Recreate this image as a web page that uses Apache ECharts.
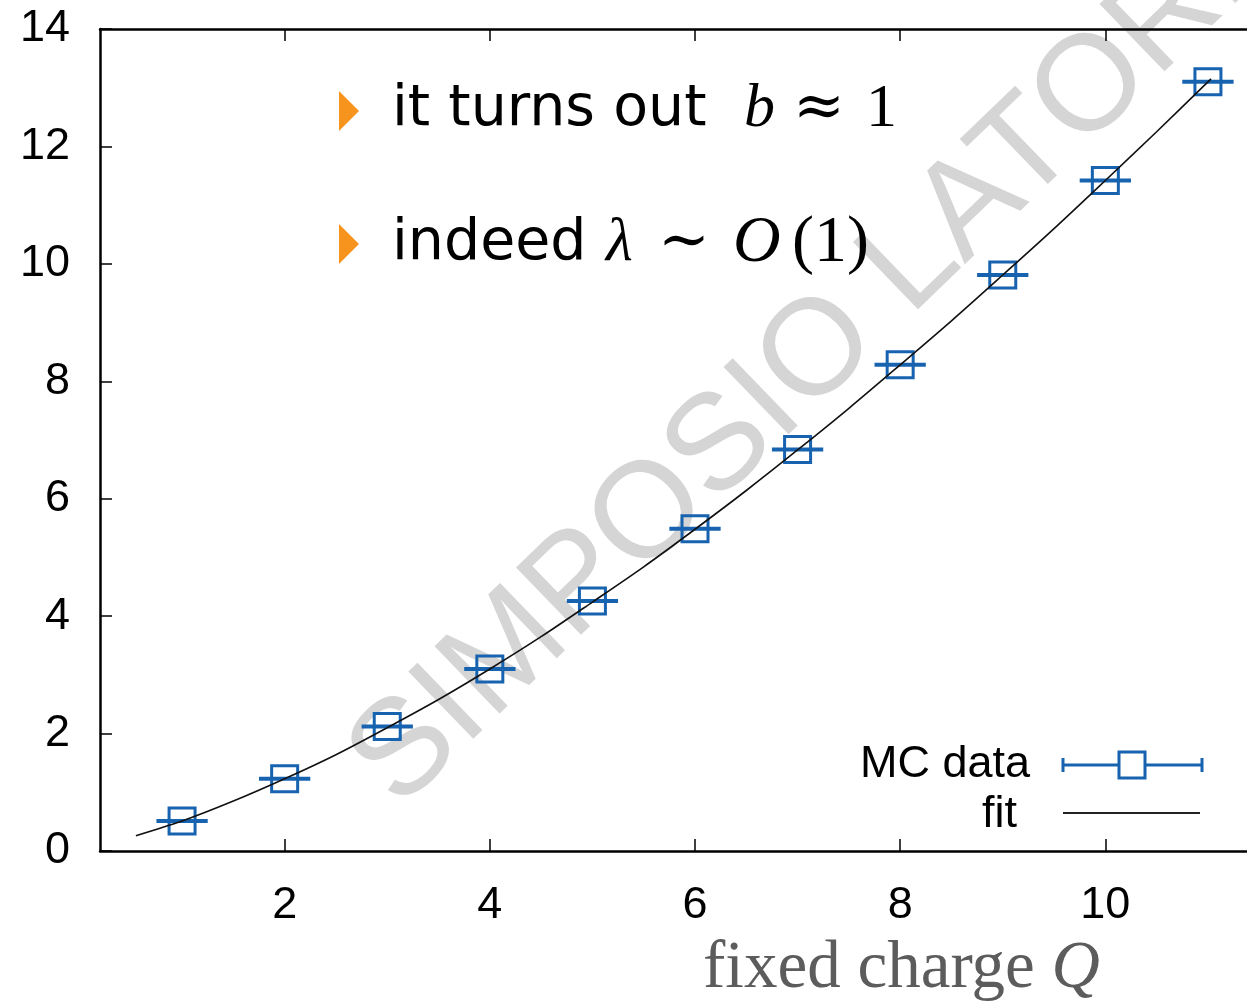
<!DOCTYPE html>
<html>
<head>
<meta charset="utf-8">
<script src="https://cdn.jsdelivr.net/npm/echarts@6/dist/echarts.min.js"></script>
<style>
	html, body { margin: 0; padding: 0; overflow: hidden; background: #fff; }
	#chart { width: 1300px; height: 1003px; }
</style>
</head>
<body>
<div id="chart"></div>
<script>
	// data
	const charges = [1, 2, 3, 4, 5, 6, 7, 8, 9, 10, 11];
	const mcValues = [0.51, 1.23, 2.12, 3.10, 4.26, 5.49, 6.84, 8.28, 9.81, 11.42, 13.10];
	const mcErrors = [0.25, 0.25, 0.25, 0.25, 0.25, 0.25, 0.25, 0.25, 0.25, 0.25, 0.25];
	const fitCharges = [0.55, 1, 1.5, 2, 2.5, 3, 3.5, 4, 4.5, 5, 5.5, 6, 6.5, 7, 7.5, 8, 8.5, 9, 9.5, 10, 10.5, 11.03];
	const fitValues = [0.26, 0.51, 0.85, 1.23, 1.64, 2.10, 2.58, 3.10, 3.65, 4.24, 4.84, 5.48, 6.14, 6.83, 7.54, 8.28, 9.03, 9.81, 10.60, 11.42, 12.25, 13.15];
	const xTicks = [2, 4, 6, 8, 10];

	const BLUE = "#1763b0";
	const ORANGE = "#f7941d";

	const myChart = echarts.init(document.getElementById("chart"));

	const axisLine = { lineStyle: { color: "#000", width: 2.5 } };
	const axisTick = { inside: true, length: 12, lineStyle: { color: "#000", width: 1.5 } };

	const option = {
		animation: false,
		grid: { left: 100, right: 10, top: 29, bottom: 152 },
		xAxis: [
			{
				type: "value",
				min: 0.2,
				max: 11.8,
				position: "bottom",
				axisLine: axisLine,
				axisTick: Object.assign({ customValues: xTicks }, axisTick),
				axisLabel: {
					customValues: xTicks,
					fontSize: 45,
					fontFamily: "Liberation Sans",
					color: "#000",
					margin: 32
				},
				splitLine: { show: false }
			},
			{
				type: "value",
				min: 0.2,
				max: 11.8,
				position: "top",
				axisLine: axisLine,
				axisTick: Object.assign({ customValues: xTicks }, axisTick),
				axisLabel: { show: false },
				splitLine: { show: false }
			}
		],
		yAxis: {
			type: "value",
			min: 0,
			max: 14,
			interval: 2,
			axisLine: Object.assign({ show: true }, axisLine),
			axisTick: Object.assign({ show: true }, axisTick),
			axisLabel: {
				fontSize: 45,
				fontFamily: "Liberation Sans",
				color: "#000",
				margin: 30
			},
			splitLine: { show: false }
		},
		graphic: [
			// watermark
			{
				type: "text",
				x: 855,
				y: 318,
				rotation: 44 * Math.PI / 180,
				z: -10,
				style: {
					text: "SIMPOSIO LATORRE",
					fill: "#d5d5d5",
					font: "136px 'Liberation Sans'",
					align: "center",
					verticalAlign: "middle"
				}
			},
			// bullets
			{ type: "polygon", shape: { points: [[339, 91], [359, 111], [339, 131]] }, style: { fill: ORANGE } },
			{ type: "polygon", shape: { points: [[339, 224], [359, 244], [339, 264]] }, style: { fill: ORANGE } },
			{ type: "text", x: 392, y: 110, style: { text: "it turns out", font: "57px 'DejaVu Sans'", fill: "#000", verticalAlign: "middle" } },
			{ type: "text", x: 744, y: 110, style: { text: "b", font: "italic 62px 'Liberation Serif'", fill: "#000", verticalAlign: "middle" } },
			{ type: "text", x: 793, y: 110, style: { text: "≈", font: "62px 'DejaVu Serif'", fill: "#000", verticalAlign: "middle" } },
			{ type: "text", x: 866, y: 110, style: { text: "1", font: "62px 'Liberation Serif'", fill: "#000", verticalAlign: "middle" } },
			{ type: "text", x: 392, y: 244, style: { text: "indeed", font: "57px 'DejaVu Sans'", fill: "#000", verticalAlign: "middle" } },
			{ type: "text", x: 606, y: 244, style: { text: "λ", font: "italic 62px 'Liberation Serif'", fill: "#000", verticalAlign: "middle" } },
			{ type: "text", x: 658, y: 244, style: { text: "∼", font: "62px 'DejaVu Serif'", fill: "#000", verticalAlign: "middle" } },
			{ type: "text", x: 733, y: 244, style: { text: "O", font: "italic 66px 'Liberation Serif'", fill: "#000", verticalAlign: "middle" } },
			{ type: "text", x: 792, y: 244, style: { text: "(1)", font: "66px 'Liberation Serif'", fill: "#000", verticalAlign: "middle" } },
			// x axis title
			{
				type: "text",
				x: 703,
				y: 969,
				style: {
					text: "{r|fixed charge }{i|Q}",
					verticalAlign: "middle",
					rich: {
						r: { font: "67px 'Liberation Serif'", fill: "#5c5c5c" },
						i: { font: "italic 67px 'Liberation Serif'", fill: "#5c5c5c" }
					}
				}
			},
			// legend
			{ type: "text", x: 1030, y: 765, style: { text: "MC data", font: "45px 'Liberation Sans'", fill: "#000", align: "right", verticalAlign: "middle" } },
			{ type: "text", x: 1017, y: 815, style: { text: "fit", font: "45px 'Liberation Sans'", fill: "#000", align: "right", verticalAlign: "middle" } },
			{ type: "line", shape: { x1: 1063, y1: 765, x2: 1202, y2: 765 }, style: { stroke: BLUE, lineWidth: 3 } },
			{ type: "line", shape: { x1: 1063, y1: 758, x2: 1063, y2: 772 }, style: { stroke: BLUE, lineWidth: 3 } },
			{ type: "line", shape: { x1: 1202, y1: 758, x2: 1202, y2: 772 }, style: { stroke: BLUE, lineWidth: 3 } },
			{ type: "rect", shape: { x: 1119, y: 752, width: 26, height: 26 }, style: { stroke: BLUE, fill: "#fff", lineWidth: 3 } },
			{ type: "line", shape: { x1: 1063, y1: 813, x2: 1200, y2: 813 }, style: { stroke: "#222", lineWidth: 2 } }
		],
		series: [
			{
				name: "MC data",
				type: "custom",
				z: 3,
				data: charges.map((q, i) => [q, mcValues[i], mcErrors[i]]),
				encode: { x: 0, y: 1 },
				renderItem: function (params, api) {
					const x = api.value(0);
					const y = api.value(1);
					const e = api.value(2);
					const c = api.coord([x, y]);
					const l = api.coord([x - e, y]);
					const r = api.coord([x + e, y]);
					return {
						type: "group",
						children: [
							{ type: "line", shape: { x1: l[0], y1: l[1], x2: r[0], y2: r[1] }, style: { stroke: BLUE, lineWidth: 4 } },
							{ type: "rect", shape: { x: c[0] - 13, y: c[1] - 13, width: 26, height: 26 }, style: { stroke: BLUE, fill: "none", lineWidth: 3 } }
						]
					};
				}
			},
			{
				name: "fit",
				type: "line",
				z: 5,
				smooth: 0.3,
				showSymbol: false,
				data: fitCharges.map((q, i) => [q, fitValues[i]]),
				lineStyle: { color: "#111", width: 1.6 }
			}
		]
	};

	myChart.setOption(option);
</script>
</body>
</html>
